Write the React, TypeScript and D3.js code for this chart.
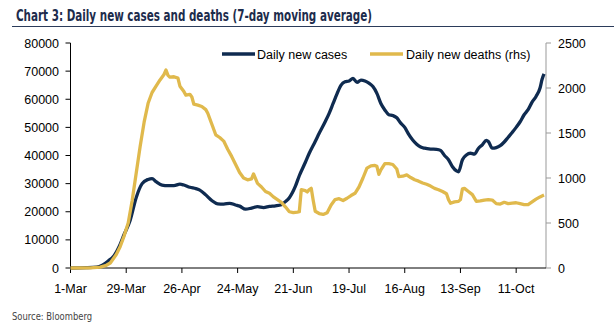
import React from "react";
import * as d3 from "d3";

const caseDates = ["2020-03-01","2020-03-09","2020-03-14","2020-03-17","2020-03-20","2020-03-23","2020-03-26","2020-03-28","2020-03-31","2020-04-03","2020-04-06","2020-04-09","2020-04-11","2020-04-13","2020-04-16","2020-04-19","2020-04-22","2020-04-25","2020-04-27","2020-04-30","2020-05-03","2020-05-05","2020-05-08","2020-05-11","2020-05-14","2020-05-17","2020-05-20","2020-05-23","2020-05-25","2020-05-28","2020-05-31","2020-06-03","2020-06-06","2020-06-09","2020-06-12","2020-06-15","2020-06-17","2020-06-19","2020-06-22","2020-06-24","2020-06-27","2020-06-29","2020-07-02","2020-07-04","2020-07-07","2020-07-09","2020-07-11","2020-07-13","2020-07-15","2020-07-17","2020-07-19","2020-07-21","2020-07-23","2020-07-25","2020-07-27","2020-07-29","2020-07-31","2020-08-02","2020-08-04","2020-08-06","2020-08-08","2020-08-10","2020-08-12","2020-08-14","2020-08-16","2020-08-18","2020-08-20","2020-08-22","2020-08-24","2020-08-26","2020-08-29","2020-09-01","2020-09-03","2020-09-05","2020-09-07","2020-09-09","2020-09-11","2020-09-12","2020-09-14","2020-09-16","2020-09-18","2020-09-20","2020-09-22","2020-09-24","2020-09-26","2020-09-27","2020-09-29","2020-10-01","2020-10-03","2020-10-05","2020-10-07","2020-10-09","2020-10-11","2020-10-13","2020-10-15","2020-10-17","2020-10-19","2020-10-21","2020-10-23","2020-10-24","2020-10-25"];
const caseValues = [0,100,300,1000,2500,4500,8500,12000,17000,25000,30000,31500,31800,30700,29500,29300,29300,29800,29500,28700,28200,27700,26000,24000,22800,22700,23000,22400,22000,20900,21300,21800,21500,21900,22100,22500,23600,25000,29000,32800,37500,40800,45000,47900,52000,55000,58500,62000,65000,66200,66500,67400,66000,66800,66500,65700,64500,62100,58500,56200,54500,54200,53400,51500,50000,47500,45500,44000,43000,42600,42300,42200,41800,40000,38500,36000,34500,34200,38500,40200,40800,40500,42500,43800,45400,45000,42600,42800,43500,44800,46500,48200,50000,52000,54500,56300,59000,61000,64000,67000,69000];

const deathDates = ["2020-03-01","2020-03-11","2020-03-16","2020-03-19","2020-03-21","2020-03-24","2020-03-26","2020-03-28","2020-03-30","2020-04-01","2020-04-03","2020-04-05","2020-04-07","2020-04-09","2020-04-11","2020-04-13","2020-04-15","2020-04-17","2020-04-18","2020-04-19","2020-04-20","2020-04-22","2020-04-24","2020-04-25","2020-04-27","2020-04-28","2020-04-30","2020-05-01","2020-05-02","2020-05-04","2020-05-06","2020-05-08","2020-05-09","2020-05-11","2020-05-13","2020-05-15","2020-05-17","2020-05-19","2020-05-21","2020-05-23","2020-05-25","2020-05-27","2020-05-29","2020-05-31","2020-06-01","2020-06-03","2020-06-05","2020-06-07","2020-06-09","2020-06-11","2020-06-13","2020-06-15","2020-06-17","2020-06-19","2020-06-21","2020-06-23","2020-06-24","2020-06-25","2020-06-27","2020-06-28","2020-06-29","2020-06-30","2020-07-01","2020-07-02","2020-07-04","2020-07-06","2020-07-08","2020-07-10","2020-07-12","2020-07-14","2020-07-16","2020-07-18","2020-07-20","2020-07-22","2020-07-24","2020-07-26","2020-07-28","2020-07-30","2020-08-01","2020-08-02","2020-08-03","2020-08-04","2020-08-06","2020-08-08","2020-08-10","2020-08-12","2020-08-13","2020-08-15","2020-08-17","2020-08-19","2020-08-21","2020-08-23","2020-08-25","2020-08-27","2020-08-29","2020-08-31","2020-09-02","2020-09-04","2020-09-06","2020-09-07","2020-09-08","2020-09-10","2020-09-12","2020-09-13","2020-09-14","2020-09-15","2020-09-17","2020-09-19","2020-09-21","2020-09-23","2020-09-25","2020-09-27","2020-09-29","2020-10-01","2020-10-03","2020-10-05","2020-10-07","2020-10-09","2020-10-11","2020-10-13","2020-10-15","2020-10-17","2020-10-19","2020-10-21","2020-10-23","2020-10-25"];
const deathValues = [0,2,10,30,55,150,240,360,500,750,1050,1350,1620,1830,1950,2020,2090,2150,2200,2140,2120,2125,2110,2020,1960,1920,1930,1900,1820,1810,1795,1760,1720,1600,1480,1450,1410,1320,1240,1150,1060,1000,980,990,1045,940,900,850,830,790,760,730,680,625,615,620,625,870,860,845,870,885,750,630,605,595,615,700,760,770,750,775,805,830,900,1000,1110,1135,1140,1130,1040,1090,1160,1160,1150,1100,1015,1020,1035,1005,980,965,945,930,910,885,870,850,825,760,720,735,740,760,880,885,850,815,740,745,755,760,755,715,710,730,715,720,725,715,705,705,735,765,790,810];

const xTickDates = ["2020-03-01","2020-03-29","2020-04-26","2020-05-24","2020-06-21","2020-07-19","2020-08-16","2020-09-13","2020-10-11"];
const leftTicks = [0,10000,20000,30000,40000,50000,60000,70000,80000];
const rightTicks = [0,500,1000,1500,2000,2500];

const titleText = "Chart 3: Daily new cases and deaths (7-day moving average)";
const sourceText = "Source: Bloomberg";
const seriesNames = ["Daily new cases", "Daily new deaths (rhs)"];

const NAVY = "#0f2b50";
const GOLD = "#e0b94c";

export default function App() {
  const parse = d3.utcParse("%Y-%m-%d");
  const fmt = d3.utcFormat("%-d-%b");
  const x = d3.scaleUtc().domain([parse("2020-03-01")!, parse("2020-10-26")!]).range([70.5, 546]);
  const yL = d3.scaleLinear().domain([0, 80000]).range([268, 43]);
  const yR = d3.scaleLinear().domain([0, 2500]).range([268, 43]);

  const cases = caseDates.map((d, i) => ({ d: parse(d)!, v: caseValues[i] }));
  const deaths = deathDates.map((d, i) => ({ d: parse(d)!, v: deathValues[i] }));

  const lineC = d3.line<{ d: Date; v: number }>().x(p => x(p.d)).y(p => yL(p.v)).curve(d3.curveMonotoneX);
  const lineD = d3.line<{ d: Date; v: number }>().x(p => x(p.d)).y(p => yR(p.v)).curve(d3.curveLinear);

  const labelFont = "'Liberation Sans', Arial, sans-serif";
  const condFont = "'Liberation Sans Narrow', 'DejaVu Sans Condensed', Roboto, sans-serif";
  const x0 = x.range()[0];
  const x1 = x.range()[1];

  return (
    <svg width={614} height={333} style={{ position: "absolute", left: 0, top: 0, background: "#fff" }}>
      <rect x={0} y={0} width={614} height={333} fill="#fff" />
      <text x={16} y={21} fontFamily={condFont} fontWeight={700} fontSize={16} fill="#1d2c4c" textLength={356} lengthAdjust="spacingAndGlyphs">{titleText}</text>
      <line x1={12} x2={614} y1={26.5} y2={26.5} stroke="#2b3b5a" strokeWidth={1} />

      {/* left axis */}
      <line x1={x0} x2={x0} y1={yL(80000)} y2={yL(0)} stroke="#000" strokeWidth={1} />
      {leftTicks.map(t => (
        <g key={"l" + t}>
          <line x1={x0 - 5} x2={x0} y1={yL(t)} y2={yL(t)} stroke="#000" />
          <text x={59} y={yL(t)} dy="0.36em" textAnchor="end" fontFamily={labelFont} fontSize={12.5} fill="#000">{t}</text>
        </g>
      ))}
      {/* right axis */}
      <line x1={x1} x2={x1} y1={yR(2500)} y2={yR(0)} stroke="#999" strokeWidth={1} />
      {rightTicks.map(t => (
        <g key={"r" + t}>
          <line x1={x1} x2={x1 + 5} y1={yR(t)} y2={yR(t)} stroke="#999" />
          <text x={558} y={yR(t)} dy="0.36em" textAnchor="start" fontFamily={labelFont} fontSize={12.5} fill="#000">{t}</text>
        </g>
      ))}
      {/* x axis */}
      <line x1={x0} x2={x1} y1={268} y2={268} stroke="#000" strokeWidth={1} />
      {xTickDates.map(s => {
        const d = parse(s)!;
        return (
          <g key={s}>
            <line x1={x(d)} x2={x(d)} y1={268} y2={273} stroke="#000" />
            <text x={x(d)} y={293} textAnchor="middle" fontFamily={labelFont} fontSize={12.5} fill="#000">{fmt(d)}</text>
          </g>
        );
      })}

      <path d={lineC(cases) ?? ""} fill="none" stroke={NAVY} strokeWidth={3.3} strokeLinejoin="round" />
      <path d={lineD(deaths) ?? ""} fill="none" stroke={GOLD} strokeWidth={3.3} strokeLinejoin="round" />

      {/* legend */}
      <line x1={222} x2={255} y1={54} y2={54} stroke={NAVY} strokeWidth={3.5} />
      <text x={257} y={54} dy="0.36em" fontFamily={labelFont} fontSize={12.5} fill="#000">{seriesNames[0]}</text>
      <line x1={370} x2={403} y1={54} y2={54} stroke={GOLD} strokeWidth={3.5} />
      <text x={406} y={54} dy="0.36em" fontFamily={labelFont} fontSize={12.5} fill="#000">{seriesNames[1]}</text>

      <text x={12} y={320} fontFamily={condFont} fontSize={11} fill="#444" textLength={80} lengthAdjust="spacingAndGlyphs">{sourceText}</text>
    </svg>
  );
}
